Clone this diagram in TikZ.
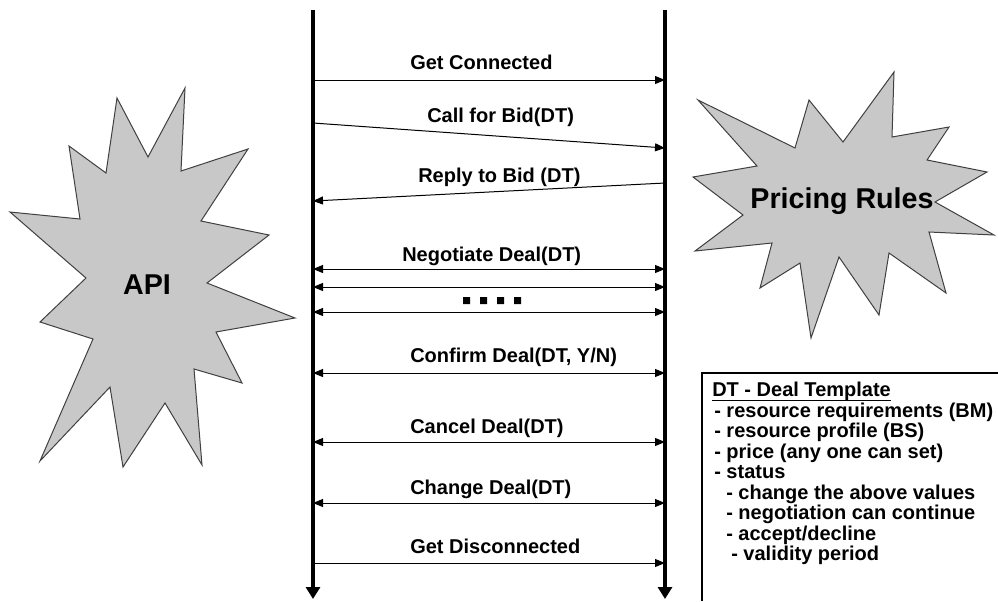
\documentclass[tikz,border=0pt]{standalone}
\usepackage{fontspec}
\setmainfont{Liberation Sans}
\usetikzlibrary{arrows.meta}
\tikzset{
  lifeline/.style = {line width=2.4pt, -{Triangle[length=9pt, width=10.5pt]}},
  msg/.style = {line width=0.75pt, -{Triangle[length=7.5pt, width=6pt]}},
  msgboth/.style = {line width=0.75pt, {Triangle[length=7.5pt, width=6pt]}-{Triangle[length=7.5pt, width=6pt]}},
  msglabel/.style = {anchor=base west, inner sep=0pt, font=\bfseries\fontsize{15}{18}\selectfont},
  dtline/.style = {anchor=base west, inner sep=0pt, font=\bfseries\fontsize{15}{18}\selectfont},
  burst/.style = {fill=burstgrey, draw=black!75, line width=0.75pt, line join=miter},
  bursttext/.style = {anchor=base, inner sep=0pt, font=\bfseries\fontsize{21.5}{25}\selectfont},
}
\begin{document}
\begin{tikzpicture}[x=0.75pt, y=-0.75pt]
\definecolor{burstgrey}{HTML}{C8C8C8}
\useasboundingbox (0,0) rectangle (998,601);
% API burst
\filldraw[burst] (69,146) -- (106,173) -- (117,98) -- (148,157) -- (185,88) -- (181,171) -- (248,149) -- (201,221) -- (269,235) -- (207,283) -- (295,318) -- (216,332) -- (242,383) -- (194,369) -- (202,465) -- (165,403) -- (123,467) -- (110,387) -- (40,461) -- (93,339) -- (40,322) -- (86,278) -- (10,212) -- (80,219) -- cycle;
\node[bursttext] (api) at (147,294) {API};
% Pricing Rules burst
\filldraw[burst] (698,100) -- (795,148) -- (809,100) -- (843,142) -- (894,72) -- (892,137) -- (949,127) -- (927,160) -- (987,172) -- (935,202) -- (994,235) -- (929,232) -- (946,293) -- (889,253) -- (879,315) -- (839,257) -- (811,338) -- (800,263) -- (760,288) -- (772,243) -- (695,251) -- (743,215) -- (693,177) -- (757,166) -- cycle;
\node[bursttext] (pricing) at (842,208) {Pricing Rules};
% lifelines
\coordinate (apitop) at (313,10);
\coordinate (apiend) at (313,599);
\coordinate (prtop) at (665,10);
\coordinate (prend) at (665,599);
% message ends
\coordinate (a1) at (313,80);  \coordinate (p1) at (665,80);
\coordinate (a2) at (313,123); \coordinate (p2) at (665,148);
\coordinate (p3) at (665,183); \coordinate (a3) at (313,201);
\coordinate (a4) at (313,269); \coordinate (p4) at (665,269);
\coordinate (a5) at (313,287); \coordinate (p5) at (665,287);
\coordinate (a6) at (313,312); \coordinate (p6) at (665,312);
\coordinate (a7) at (313,373); \coordinate (p7) at (665,373);
\coordinate (a8) at (313,442); \coordinate (p8) at (665,442);
\coordinate (a9) at (313,503); \coordinate (p9) at (665,503);
\coordinate (a10) at (313,563); \coordinate (p10) at (665,563);
% messages
\draw[msg] (a1) -- (p1);
\node[msglabel] (conn) at (410,69) {Get Connected};
\draw[msg] (a2) -- (p2);
\node[msglabel] (callbid) at (427,122) {Call for Bid(DT)};
\draw[msg] (p3) -- (a3);
\node[msglabel] (replybid) at (418,182) {Reply to Bid (DT)};
\draw[msgboth] (a4) -- (p4);
\node[msglabel] (nego) at (402,261) {Negotiate Deal(DT)};
\draw[msgboth] (a5) -- (p5);
\fill (463,297) rectangle ++(7,7) (480,297) rectangle ++(7,7) (497,297) rectangle ++(7,7) (514,297) rectangle ++(7,7);
\draw[msgboth] (a6) -- (p6);
\draw[msgboth] (a7) -- (p7);
\node[msglabel] (confirm) at (410,362) {Confirm Deal(DT, Y/N)};
\draw[msgboth] (a8) -- (p8);
\node[msglabel] (cancel) at (410,433) {Cancel Deal(DT)};
\draw[msgboth] (a9) -- (p9);
\node[msglabel] (change) at (410,494) {Change Deal(DT)};
\draw[msg] (a10) -- (p10);
\node[msglabel] (disconn) at (410,553) {Get Disconnected};
\draw[lifeline] (apitop) -- (apiend);
\draw[lifeline] (prtop) -- (prend);
% deal template box
\draw[line width=0.9pt] (998,373) -- (702,373) -- (702,601);
\node[dtline] (dt0) at (712,396) {DT - Deal Template};
\draw[line width=1pt] ([yshift=-3.5pt]dt0.base west) -- ([yshift=-3.5pt]dt0.base east);
\node[dtline] (dt1) at (714,417) {- resource requirements (BM)};
\node[dtline] (dt2) at (714,437.5) {- resource profile (BS)};
\node[dtline] (dt3) at (714,458) {- price (any one can set)};
\node[dtline] (dt4) at (714,478.5) {- status};
\node[dtline] (dt5) at (726,499) {- change the above values};
\node[dtline] (dt6) at (726,519.5) {- negotiation can continue};
\node[dtline] (dt7) at (726,540) {- accept/decline};
\node[dtline] (dt8) at (731,560.5) {- validity period};
\end{tikzpicture}
\end{document}
